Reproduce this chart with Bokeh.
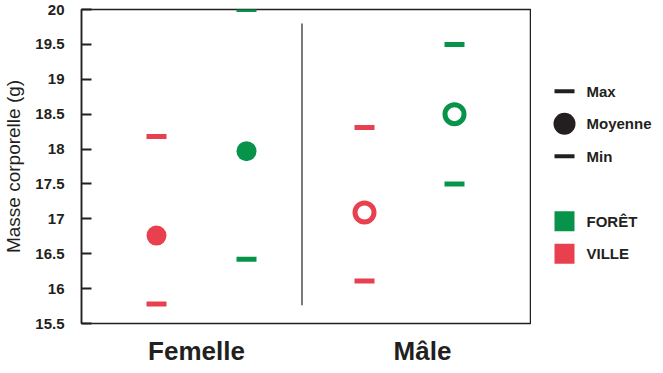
from bokeh.plotting import figure
from bokeh.layouts import row
from bokeh.models import Range1d, FixedTicker, ColumnDataSource
from bokeh.core.properties import value
from bokeh.embed import file_html
from bokeh.resources import INLINE

# ---- data ----
sexes = ["Femelle", "Mâle"]
habitats = ["VILLE", "FORÊT"]
ville_max = [18.18, 18.31]
ville_mean = [16.76, 17.09]
ville_min = [15.78, 16.11]
foret_max = [20.0, 19.5]
foret_mean = [17.97, 18.5]
foret_min = [16.42, 17.5]
y_ticks = [15.5, 16, 16.5, 17, 17.5, 18, 18.5, 19, 19.5, 20]
legend_labels = ["Max", "Moyenne", "Min", "", "FORÊT", "VILLE"]

RED = "#E8404E"
GREEN = "#08934A"
INK = "#231F20"
FONT = "Liberation Sans"
TOP = 9

group_center = [1.2, 3.28]
offset = 0.45
x_red = [c - offset for c in group_center]
x_green = [c + offset for c in group_center]

p = figure(frame_width=450, frame_height=314, output_backend="svg",
           toolbar_location=None, x_range=Range1d(0, 4.5),
           y_range=Range1d(y_ticks[0], y_ticks[-1]),
           min_border_left=72, min_border_right=0, min_border_top=TOP,
           min_border_bottom=44)
p.grid.visible = False
p.outline_line_color = INK
p.outline_line_width = 1.5
p.background_fill_color = "white"
p.border_fill_color = "white"

# y axis
ya = p.yaxis[0]
ya.ticker = FixedTicker(ticks=y_ticks)
ya.major_label_overrides = {t: f"{t:g}" for t in y_ticks}
ya.major_tick_in = 10
ya.major_tick_out = 0
ya.major_tick_line_width = 2
ya.major_tick_line_color = INK
ya.minor_tick_line_color = None
ya.axis_line_color = INK
ya.axis_line_width = 1.5
ya.major_label_standoff = 17
ya.major_label_text_font = FONT
ya.major_label_text_font_style = "bold"
ya.major_label_text_font_size = "15px"
ya.major_label_text_color = INK
ya.axis_label = "Masse corporelle (g)"
ya.axis_label_text_font = FONT
ya.axis_label_text_font_style = "normal"
ya.axis_label_text_font_size = "19px"
ya.axis_label_text_color = INK
ya.axis_label_standoff = 8

# x axis with category names
label_x = [group_center[0] - 0.05, group_center[1] + 0.13]
xa = p.xaxis[0]
xa.ticker = FixedTicker(ticks=label_x)
xa.major_label_overrides = {lx: s for lx, s in zip(label_x, sexes)}
xa.major_tick_in = 0
xa.major_tick_out = 0
xa.minor_tick_line_color = None
xa.axis_line_color = None
xa.major_label_standoff = 12
xa.major_label_text_font = FONT
xa.major_label_text_font_style = "bold"
xa.major_label_text_font_size = "26px"
xa.major_label_text_color = INK

# divider
mid = (group_center[0] + group_center[1]) / 2 - 0.035
p.segment(x0=[mid], y0=[y_ticks[-1] - 0.2], x1=[mid], y1=[y_ticks[0] + 0.26],
          line_color=INK, line_width=1.2)

# max / min dashes
for xs, mx, mn, col in [(x_red, ville_max, ville_min, RED),
                        (x_green, foret_max, foret_min, GREEN)]:
    src = ColumnDataSource(dict(x=xs + xs, y=mx + mn))
    p.rect(x="x", y="y", width=20, height=5, width_units="screen",
           height_units="screen", source=src, fill_color=col, line_color=None)

# means: Femelle filled, Mâle hollow
p.scatter(x=[x_red[0]], y=[ville_mean[0]], size=20, fill_color=RED, line_color=None)
p.scatter(x=[x_green[0]], y=[foret_mean[0]], size=20, fill_color=GREEN, line_color=None)
p.scatter(x=[x_red[1]], y=[ville_mean[1]], size=19, fill_color="white",
          line_color=RED, line_width=5)
p.scatter(x=[x_green[1]], y=[foret_mean[1]], size=19, fill_color="white",
          line_color=GREEN, line_width=5)

# ---- legend panel ----
row_px = 32.5
first_px = 81.7
n_rows = 314 / row_px
top = -first_px / row_px
q = figure(frame_width=125, frame_height=314, output_backend="svg",
           toolbar_location=None, x_range=Range1d(0, 125),
           y_range=Range1d(top + n_rows, top),
           min_border_left=0, min_border_right=0, min_border_top=TOP,
           min_border_bottom=44)
q.axis.visible = False
q.grid.visible = False
q.outline_line_color = None

idx = {lab: i for i, lab in enumerate(legend_labels)}
gx = 33
q.rect(x=[gx, gx], y=[idx["Max"], idx["Min"]], width=20, height=4,
       width_units="screen", height_units="screen", fill_color=INK, line_color=None)
q.scatter(x=[gx], y=[idx["Moyenne"]], size=22, fill_color=INK, line_color=None)
q.scatter(x=[gx, gx], y=[idx["FORÊT"], idx["VILLE"]], marker="square", size=20,
          fill_color=[GREEN, RED], line_color=None)
labs = [l for l in legend_labels if l]
q.text(x=[55] * len(labs), y=[idx[l] for l in labs], text=labs,
       text_font=value(FONT), text_font_style="bold", text_font_size="15px",
       text_color=INK, text_baseline="middle", text_align="left")

layout = row(p, q)
open("out.html", "w").write(file_html(layout, INLINE))
